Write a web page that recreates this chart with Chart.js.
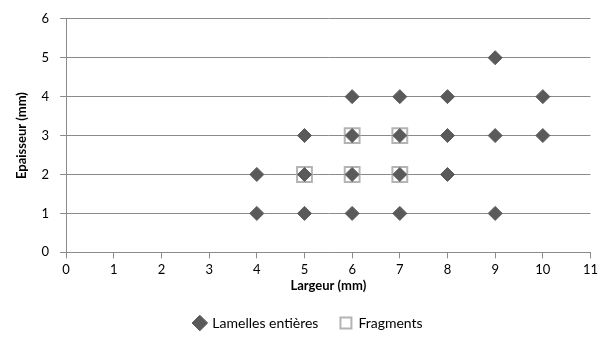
<!DOCTYPE html>
<html>
<head>
<meta charset="utf-8">
<script src="https://cdn.jsdelivr.net/npm/chart.js@4"></script>
<style>
  html, body { margin: 0; padding: 0; background: #fff; }
  #wrap { width: 603px; height: 361px; }
</style>
</head>
<body>
<div id="wrap"><canvas id="chart" width="603" height="361"></canvas></div>
<script>
// Lamelles entières (largeur, épaisseur)
const lamellesX = [4, 5, 6, 7, 9, 4, 5, 6, 7, 8, 5, 6, 7, 8, 9, 10, 6, 7, 8, 10, 9];
const lamellesY = [1, 1, 1, 1, 1, 2, 2, 2, 2, 2, 3, 3, 3, 3, 3, 3, 4, 4, 4, 4, 5];

// Fragments
const fragmentsX = [5, 6, 7, 6, 7];
const fragmentsY = [2, 2, 2, 3, 3];

const xTicks = [0, 1, 2, 3, 4, 5, 6, 7, 8, 9, 10, 11];
const yTicks = [0, 1, 2, 3, 4, 5, 6];

const FONT = "Lato, 'Open Sans', sans-serif";
const gridColor = '#8a8a8a';

const toPoints = (xs, ys) => xs.map((x, i) => ({ x, y: ys[i] }));

new Chart(document.getElementById('chart'), {
  type: 'scatter',
  data: {
    datasets: [
      {
        label: 'Lamelles entières',
        data: toPoints(lamellesX, lamellesY),
        pointStyle: 'rectRot',
        pointRadius: 7,
        pointHoverRadius: 7,
        backgroundColor: '#5a5a5a',
        borderColor: '#5a5a5a',
        borderWidth: 1
      },
      {
        label: 'Fragments',
        data: toPoints(fragmentsX, fragmentsY),
        pointStyle: 'rect',
        pointRadius: 10.5,
        pointHoverRadius: 10.5,
        backgroundColor: 'rgba(0,0,0,0)',
        borderColor: '#b4b4b4',
        borderWidth: 2
      }
    ]
  },
  options: {
    responsive: false,
    animation: false,
    layout: { padding: { top: 9, left: 14, right: 0, bottom: 21 } },
    plugins: {
      tooltip: { enabled: false },
      legend: {
        position: 'bottom',
        labels: {
          usePointStyle: true,
          boxWidth: 11,
          boxHeight: 11,
          padding: 22,
          color: '#000',
          font: { family: FONT, size: 14 }
        }
      }
    },
    scales: {
      x: {
        type: 'linear',
        min: 0,
        max: 11,
        afterBuildTicks: axis => { axis.ticks = xTicks.map(v => ({ value: v })); },
        ticks: { color: '#000', font: { family: FONT, size: 13 }, padding: 4 },
        grid: { drawOnChartArea: false, drawTicks: true, tickLength: 6, color: gridColor },
        border: { color: gridColor, width: 1 },
        title: {
          display: true,
          text: 'Largeur (mm)',
          color: '#000',
          font: { family: FONT, size: 13, weight: 'bold' },
          padding: { top: -3.5, bottom: 0 }
        }
      },
      y: {
        type: 'linear',
        min: 0,
        max: 6,
        afterBuildTicks: axis => { axis.ticks = yTicks.map(v => ({ value: v })); },
        ticks: { color: '#000', font: { family: FONT, size: 13 }, padding: 11 },
        grid: { color: gridColor, lineWidth: 1, tickLength: 6 },
        border: { color: gridColor, width: 1 },
        title: {
          display: true,
          text: 'Epaisseur (mm)',
          color: '#000',
          font: { family: FONT, size: 13, weight: 'bold' },
          padding: { top: 0, bottom: 1 }
        }
      }
    }
  }
});
</script>
</body>
</html>
